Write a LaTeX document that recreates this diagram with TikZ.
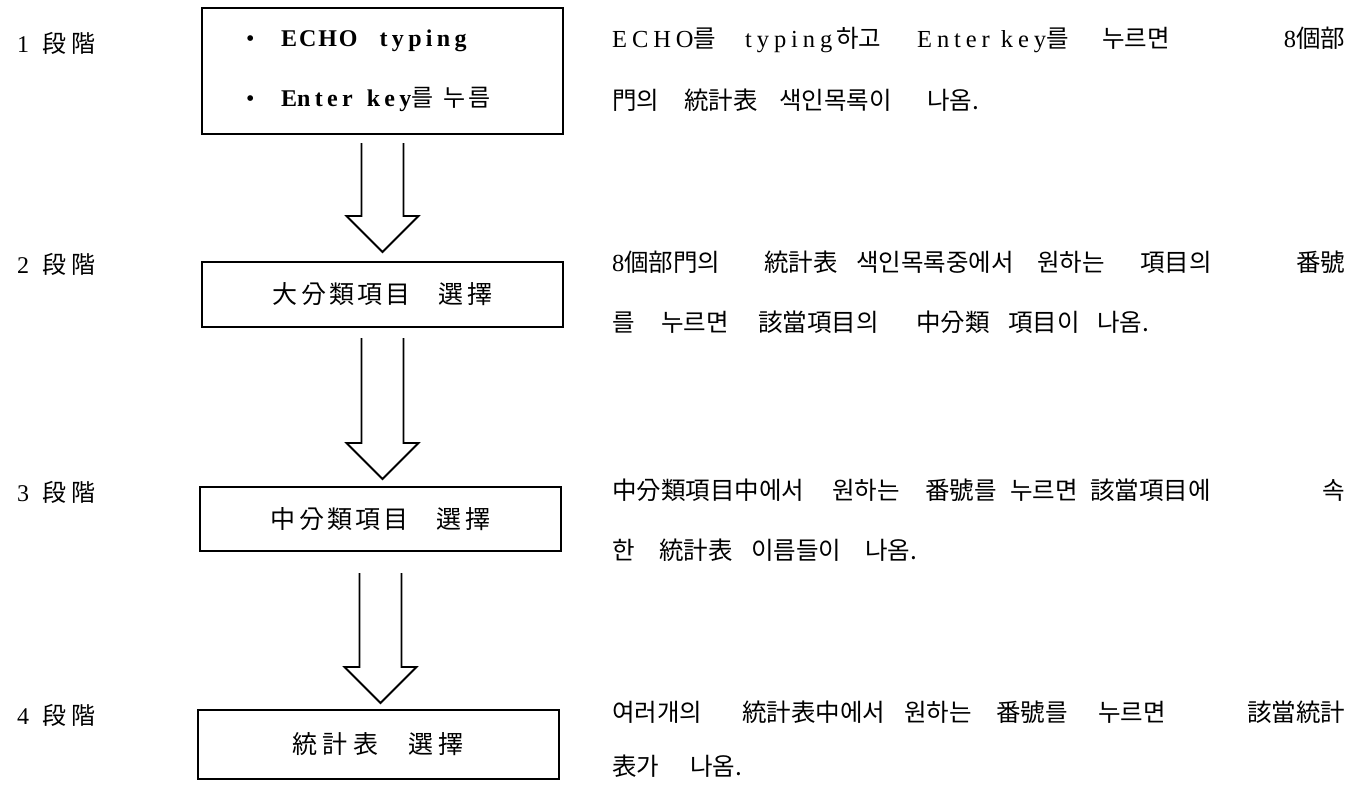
\documentclass[tikz,border=0pt]{standalone}
\usepackage{fontspec}
\setmainfont{Liberation Serif}
\newfontfamily\cjk{Noto Sans CJK KR}
\newfontfamily\cjkbox[LetterSpace=13]{Noto Sans CJK KR}
\newfontfamily\cjkboxw[LetterSpace=22]{Noto Sans CJK KR}
\newfontfamily\latcap[LetterSpace=8]{Liberation Serif}
\newfontfamily\latlow[LetterSpace=18]{Liberation Serif}
\newfontfamily\latsp[LetterSpace=20]{Liberation Serif}
\usetikzlibrary{calc}
\newcommand{\Wl}[2]{\makebox[0pt][l]{\hspace*{#1pt}#2}}
\newcommand{\Wr}[2]{\makebox[0pt][l]{\hspace*{#1pt}\makebox[0pt][r]{#2}}}
\newcommand{\K}[1]{{\cjk #1}}
\newcommand{\Lfill}{\hspace*{733pt}\vphantom{\K{國}}}
\newcommand{\blockarr}[2]{%
  \draw[barrow] ($(#1)+(-21,0)$) -- ($(#2)+(-21,-36)$) -- ($(#2)+(-36,-36)$) -- (#2)
    -- ($(#2)+(36,-36)$) -- ($(#2)+(21,-36)$) -- ($(#1)+(21,0)$);}
\tikzset{
  box/.style={draw, line width=2pt, minimum width=361pt, inner sep=0pt, font=\fontsize{25}{29}\selectfont},
  lbl/.style={anchor=west, inner sep=0pt, font=\fontsize{24}{28}\selectfont},
  rline/.style={anchor=west, inner sep=0pt, font=\fontsize{24.5}{28}\selectfont},
  barrow/.style={draw, line width=1.8pt, line join=miter},
}
\begin{document}
\begin{tikzpicture}[x=1pt, y=-1pt]
\fill[white] (0,0) rectangle (1356,789);
\useasboundingbox (0,0) rectangle (1356,789);

% stage labels
\node[lbl] (s1) at (17,43)  {1\hspace{13pt}\K{段\hspace{5pt}階}};
\node[lbl] (s2) at (17,264) {2\hspace{13pt}\K{段\hspace{5pt}階}};
\node[lbl] (s3) at (17,492) {3\hspace{13pt}\K{段\hspace{5pt}階}};
\node[lbl] (s4) at (17,715) {4\hspace{13pt}\K{段\hspace{5pt}階}};

% boxes
\node[box, minimum height=126pt, font=\fontsize{24}{28}\selectfont] (b1) at (382.5,71)
  {\begin{tabular}{@{}l@{}}\makebox[35pt][l]{•}{\bfseries\latcap ECHO\hspace{22pt}\latlow typing}\\[32pt]
   \makebox[35pt][l]{•}{\bfseries\latcap E\latlow nter\hspace{14pt}key}{\cjkbox 를\hspace{10pt}누름}\end{tabular}\hspace*{28pt}};
\node[box, minimum height=65pt] (b2) at (382.5,294.5) {\cjkbox 大分類項目\hspace{28pt}選擇};
\node[box, minimum height=64pt] (b3) at (380.5,519) {\cjkbox 中分類項目\hspace{28pt}選擇};
\node[box, minimum height=69pt] (b4) at (378,744.5) {\cjkboxw 統計表\hspace{30pt}選擇};

% block arrows
\coordinate (a1s) at ($(b1.south)+(0,8)$);
\coordinate (a1e) at ($(b2.north)+(0,-9)$);
\coordinate (a1t) at (a1s |- a1e);
\blockarr{a1s}{a1t}
\coordinate (a2s) at ($(b2.south)+(0,10)$);
\coordinate (a2e) at ($(b3.north)+(0,-7)$);
\coordinate (a2t) at (a2s |- a2e);
\blockarr{a2s}{a2t}
\coordinate (a3s) at ($(b3.south)+(0,21)$);
\coordinate (a3e) at ($(b4.north)+(0,-6)$);
\coordinate (a3t) at (a3s |- a3e);
\blockarr{a3s}{a3t}

% explanations
\node[rline] (t1a) at (612,40) {\Wl{0}{\latsp ECHO\K{를}}\Wl{133}{\latsp typing\hspace{4pt}\K{하고}}\Wl{305}{\latsp Enter key\K{를}}\Wl{490}{\K{누르면}}\Wr{733}{8\K{個部}}\Lfill};
\node[rline] (t1b) at (612,100) {\Wl{0}{\K{門의}}\Wl{72}{\K{統計表}}\Wl{167}{\K{색인목록이}}\Wl{315}{\K{나옴.}}\Lfill};

\node[rline] (t2a) at (612,262) {\Wl{0}{8\K{個部門의}}\Wl{152}{\K{統計表}}\Wl{244}{\K{색인목록중에서}}\Wl{425}{\K{원하는}}\Wl{528}{\K{項目의}}\Wr{733}{\K{番號}}\Lfill};
\node[rline] (t2b) at (612,322) {\Wl{0}{\K{를}}\Wl{49}{\K{누르면}}\Wl{146}{\K{該當項目의}}\Wl{304}{\K{中分類}}\Wl{396}{\K{項目이}}\Wl{485}{\K{나옴.}}\Lfill};

\node[rline] (t3a) at (612,490) {\Wl{0}{\K{中分類項目中에서}}\Wl{220}{\K{원하는}}\Wl{313}{\K{番號를}}\Wl{398}{\K{누르면}}\Wl{478}{\K{該當項目에}}\Wr{733}{\K{속}}\Lfill};
\node[rline] (t3b) at (612,550) {\Wl{0}{\K{한}}\Wl{47}{\K{統計表}}\Wl{139}{\K{이름들이}}\Wl{253}{\K{나옴.}}\Lfill};

\node[rline] (t4a) at (612,712) {\Wl{0}{\K{여러개의}}\Wl{130}{\K{統計表中에서}}\Wl{292}{\K{원하는}}\Wl{384}{\K{番號를}}\Wl{486}{\K{누르면}}\Wr{733}{\K{該當統計}}\Lfill};
\node[rline] (t4b) at (612,766) {\Wl{0}{\K{表가}}\Wl{78}{\K{나옴.}}\Lfill};
\end{tikzpicture}
\end{document}
